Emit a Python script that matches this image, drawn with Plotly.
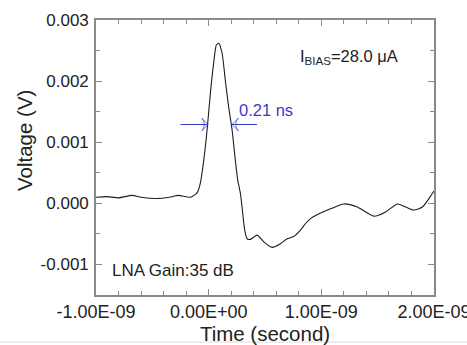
import plotly.graph_objects as go

# data (time in ns, voltage in V)
time_ns = [-1.00, -0.90, -0.80, -0.68, -0.60, -0.46, -0.35, -0.27, -0.16, -0.10,
           -0.074, -0.044, -0.014, 0.015, 0.044, 0.068, 0.089, 0.119, 0.148, 0.178,
           0.208, 0.237, 0.258, 0.282, 0.302, 0.32, 0.341, 0.371, 0.43, 0.489,
           0.564, 0.637, 0.697, 0.758, 0.815, 0.86, 0.904, 0.993, 1.082, 1.20,
           1.319, 1.467, 1.571, 1.676, 1.75, 1.822, 1.897, 1.956, 2.00]
voltage = [0.00010, 0.00011, 0.00009, 0.00013, 0.00010, 0.00008, 0.00010, 0.00013, 0.00010, 0.00018,
           0.00033, 0.00070, 0.00120, 0.00180, 0.00229, 0.00259, 0.00262, 0.00246, 0.00201, 0.00157,
           0.00120, 0.00070, 0.00038, 0.00016, -0.00016, -0.00044, -0.00058, -0.00059, -0.00052, -0.00063,
           -0.00072, -0.00066, -0.00058, -0.00054, -0.00044, -0.00033, -0.00025, -0.00016, -0.00009, -0.00001,
           -0.00006, -0.00021, -0.00014, -0.00001, -0.00006, -0.00011, -0.00006, 0.00008, 0.00020]

x_tickvals = [-1e-9, 0.0, 1e-9, 2e-9]
x_ticktext = ["-1.00E-09", "0.00E+00", "1.00E-09", "2.00E-09"]
y_tickvals = [-0.001, 0.0, 0.001, 0.002, 0.003]
y_ticktext = ["-0.001", "0.000", "0.001", "0.002", "0.003"]

fwhm_level = 0.00129
fwhm_left_arrow_ns = [-0.25, -0.005]
fwhm_right_arrow_ns = [0.43, 0.207]

t_s = [t * 1e-9 for t in time_ns]
x_minor = [(-1.0 + 0.2 * i) * 1e-9 for i in range(16)]
y_minor = [-0.0015 + 0.0005 * i for i in range(10)]

FONT = "Liberation Sans, Arial, sans-serif"
AXC = "#8a8a8a"
BLUE = "#3a3ac8"
TXT = "#222"

fig = go.Figure()
fig.add_trace(go.Scatter(x=t_s, y=voltage, mode="lines",
                         line=dict(color="#1e1e1e", width=1.1, shape="spline", smoothing=0.6),
                         hoverinfo="skip", showlegend=False))

for arr in (fwhm_left_arrow_ns, fwhm_right_arrow_ns):
    fig.add_trace(go.Scatter(x=[a * 1e-9 for a in arr], y=[fwhm_level, fwhm_level],
                             mode="lines+markers", line=dict(color=BLUE, width=1),
                             marker=dict(symbol="arrow-wide-open", size=[0, 9], angleref="previous",
                                         color=BLUE, line=dict(color=BLUE, width=1)),
                             hoverinfo="skip", showlegend=False))

axis_common = dict(showgrid=False, zeroline=False, showline=True, linecolor=AXC, linewidth=1.6,
                   mirror="ticks", ticks="inside", ticklen=6, tickcolor=AXC, tickwidth=1,
                   automargin=False, ticklabeloverflow="allow")

fig.update_xaxes(range=[-1e-9, 2e-9], tickmode="array", tickvals=x_tickvals, ticktext=x_ticktext,
                 tickfont=dict(family=FONT, size=18, color=TXT),
                 minor=dict(ticks="inside", tickmode="array", tickvals=x_minor, ticklen=4, tickcolor=AXC),
                 title=dict(text="Time (second)", font=dict(family=FONT, size=20.5, color=TXT), standoff=6),
                 **axis_common)
fig.update_yaxes(range=[-0.0015, 0.003], tickmode="array", tickvals=y_tickvals, ticktext=y_ticktext,
                 tickfont=dict(family=FONT, size=17, color=TXT), ticklabelstandoff=2,
                 minor=dict(ticks="inside", tickmode="array", tickvals=y_minor, ticklen=4, tickcolor=AXC),
                 **axis_common)

# y-axis title (placed as in the reference, slightly above centre)
fig.add_annotation(x=-0.213, y=0.56, xref="paper", yref="paper", text="Voltage (V)", textangle=-90,
                   showarrow=False, xanchor="center", yanchor="middle",
                   font=dict(family=FONT, size=20.5, color=TXT))

fig.add_annotation(x=0.25e-9, y=0.00152, xref="x", yref="y", text="0.21 ns", showarrow=False,
                   xanchor="left", yanchor="middle", font=dict(family=FONT, size=16.5, color=BLUE))
fig.add_annotation(x=0.79e-9, y=0.00239, xref="x", yref="y", text="I<sub>BIAS</sub>=28.0 \u03bcA",
                   showarrow=False, xanchor="left", yanchor="middle",
                   font=dict(family=FONT, size=16.5, color=TXT))
fig.add_annotation(x=-0.88e-9, y=-0.0011, xref="x", yref="y", text="LNA Gain:35 dB", showarrow=False,
                   xanchor="left", yanchor="middle", font=dict(family=FONT, size=17, color=TXT))

# thin light separator at the bottom of the picture
fig.add_shape(type="line", xref="paper", yref="paper", x0=-0.3, x1=1.2, y0=-0.171, y1=-0.171,
              line=dict(color="#dcdcdc", width=1))

fig.update_layout(width=467, height=345, margin=dict(l=96, r=33, t=20, b=50),
                  paper_bgcolor="white", plot_bgcolor="white", showlegend=False)

fig.write_html("out.html", config={"displayModeBar": False},
               post_script="document.body.style.margin='0px';document.body.style.overflow='hidden';")
